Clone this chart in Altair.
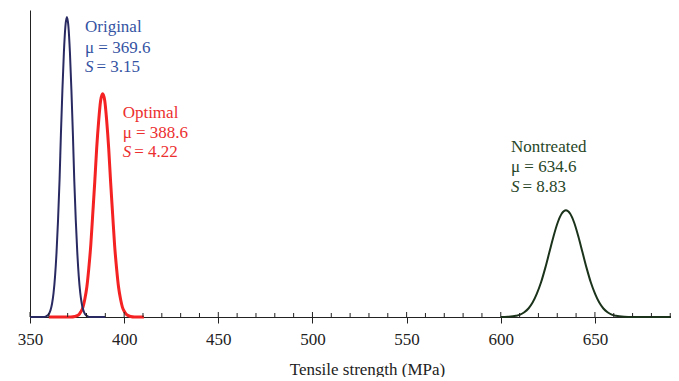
import altair as alt
import pandas as pd

# ---- data ----
orig_x = [350, 357.0, 358.6, 360.1, 360.9, 361.7, 362.5, 363.3, 364.1, 364.9, 365.7, 366.4, 367.2, 368.0, 368.8, 369.6,
          370.4, 371.2, 372.0, 372.8, 373.5, 374.3, 375.1, 375.9, 376.7, 377.5, 378.3, 379.1, 380.6, 382.2, 390]
orig_y = [0, 0, 0.0003, 0.0014, 0.0029, 0.0056, 0.0101, 0.0172, 0.0275, 0.0412, 0.0581, 0.0770, 0.0959, 0.1121, 0.1231, 0.127,
          0.1231, 0.1121, 0.0959, 0.0770, 0.0581, 0.0412, 0.0275, 0.0172, 0.0101, 0.0056, 0.0029, 0.0014, 0.0003, 0, 0]

opt_x = [360, 371.7, 373.8, 376.0, 377.0, 378.1, 379.1, 380.2, 381.2, 382.3, 383.3, 384.4, 385.4, 386.5, 387.5, 388.6,
         389.7, 390.7, 391.8, 392.8, 393.9, 394.9, 396.0, 397.0, 398.1, 399.1, 400.2, 401.3, 403.4, 405.5, 410.5]
opt_y = [0, 0, 0.0002, 0.0010, 0.0022, 0.0041, 0.0075, 0.0128, 0.0204, 0.0307, 0.0433, 0.0573, 0.0713, 0.0834, 0.0916, 0.0945,
         0.0916, 0.0834, 0.0713, 0.0573, 0.0433, 0.0307, 0.0204, 0.0128, 0.0075, 0.0041, 0.0022, 0.0010, 0.0002, 0, 0]

non_x = [600, 603.7, 608.1, 610.3, 612.5, 614.7, 616.9, 619.1, 621.4, 623.6, 625.8, 628.0, 630.2, 632.4, 634.6,
         636.8, 639.0, 641.2, 643.4, 645.6, 647.8, 650.1, 652.3, 654.5, 656.7, 658.9, 661.1, 665.5, 669.9, 690.4]
non_y = [0, 0.0001, 0.0005, 0.0010, 0.0020, 0.0036, 0.0061, 0.0098, 0.0147, 0.0207, 0.0274, 0.0341, 0.0399, 0.0438, 0.0452,
         0.0438, 0.0399, 0.0341, 0.0274, 0.0207, 0.0147, 0.0098, 0.0061, 0.0036, 0.0020, 0.0010, 0.0005, 0.0001, 0, 0]

names = ["Original", "Optimal", "Nontreated"]
mu_text = ["μ = 369.6", "μ = 388.6", "μ = 634.6"]
s_text = ["= 3.15", "= 4.22", "= 8.83"]
label_x = [379.2, 399.2, 605.4]
label_y_name = [0.1206, 0.0843, 0.0700]
label_y_mu = [0.1119, 0.0760, 0.0615]
label_y_s = [0.1039, 0.0678, 0.0531]

major_ticks = [350, 400, 450, 500, 550, 600, 650]
minor_ticks = [360, 370, 380, 390, 410, 420, 430, 440, 460, 470, 480, 490, 510, 520, 530, 540,
               560, 570, 580, 590, 610, 620, 630, 640, 660, 670, 680, 690]

# ---- styles ----
line_colors = ["#2a2a62", "#f42222", "#1b331b"]
text_colors = ["#3553a3", "#ec2f2f", "#284628"]
line_widths = [2, 3, 2]
FONT = "Liberation Serif"
FS = 17
W, H = 641, 307

xscale = alt.Scale(domain=[350, 690.4], nice=False, zero=False)
yscale = alt.Scale(domain=[0, 0.13], nice=False)
xaxis = alt.Axis(values=major_ticks, tickSize=6, labelFont=FONT, labelFontSize=FS, labelColor="#222",
                 labelPadding=8, labelFlush=False, grid=False, domainColor="#222", tickColor="#222", domainWidth=1,
                 title="Tensile strength (MPa)", titleFont=FONT, titleFontSize=FS, titleFontWeight="normal",
                 titleColor="#222", titleX=337, titleY=57, titleBaseline="alphabetic")
yaxis = alt.Axis(labels=False, ticks=False, title=None, grid=False, domainColor="#222", domainWidth=1)


def X(field):
    return alt.X(field, type="quantitative", scale=xscale, axis=xaxis)


def Y(field):
    return alt.Y(field, type="quantitative", scale=yscale, axis=yaxis)


curves = [(orig_x, orig_y), (opt_x, opt_y), (non_x, non_y)]
draw_order = [1, 0, 2]

layers = []
for i in draw_order:
    cx, cy = curves[i]
    df = pd.DataFrame({"x": cx, "y": cy})
    layers.append(
        alt.Chart(df).mark_line(color=line_colors[i], strokeWidth=line_widths[i], interpolate="monotone")
        .encode(x=X("x"), y=Y("y"))
    )

for i in range(3):
    tdf = pd.DataFrame({
        "x": [label_x[i], label_x[i]],
        "y": [label_y_name[i], label_y_mu[i]],
        "t": [names[i], mu_text[i]],
    })
    layers.append(
        alt.Chart(tdf).mark_text(font=FONT, fontSize=FS, color=text_colors[i], align="left", baseline="alphabetic")
        .encode(x=X("x"), y=Y("y"), text="t:N")
    )
    sdf = pd.DataFrame({"x": [label_x[i]], "y": [label_y_s[i]], "s": ["S"], "v": [s_text[i]]})
    layers.append(
        alt.Chart(sdf).mark_text(font=FONT, fontSize=FS, fontStyle="italic", color=text_colors[i],
                                 align="left", baseline="alphabetic")
        .encode(x=X("x"), y=Y("y"), text="s:N")
    )
    layers.append(
        alt.Chart(sdf).mark_text(font=FONT, fontSize=FS, color=text_colors[i], align="left",
                                 baseline="alphabetic", dx=11.5)
        .encode(x=X("x"), y=Y("y"), text="v:N")
    )

minor_df = pd.DataFrame({"x": minor_ticks})
major_df = pd.DataFrame({"x": major_ticks})
layers.append(
    alt.Chart(minor_df).mark_rule(color="#222", strokeWidth=1)
    .encode(x=X("x"), y=alt.value(H), y2=alt.value(H - 4))
)
layers.append(
    alt.Chart(major_df).mark_rule(color="#222", strokeWidth=1)
    .encode(x=X("x"), y=alt.value(H), y2=alt.value(H - 5))
)

chart = alt.layer(*layers).properties(
    width=W, height=H,
    autosize=alt.AutoSizeParams(type="none"),
    padding={"left": 22, "top": 2, "right": 0, "bottom": 60},
    background="white",
).configure_view(stroke=None)

chart.save("out.html", embed_options={"renderer": "svg", "actions": False})
